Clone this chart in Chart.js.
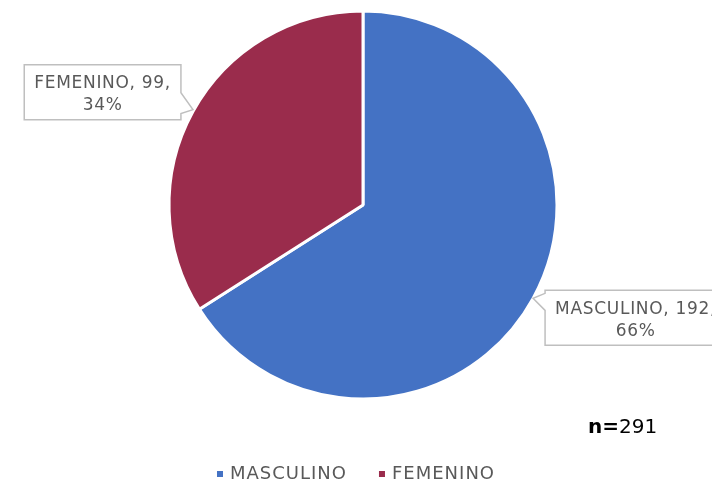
<!DOCTYPE html>
<html>
<head>
<meta charset="utf-8">
<script src="https://cdn.jsdelivr.net/npm/chart.js@4/dist/chart.umd.min.js"></script>
<style>
html,body{margin:0;padding:0;background:#fff;}
#wrap{position:relative;width:712px;height:482px;}
</style>
</head>
<body>
<div id="wrap"><canvas id="c" width="712" height="482"></canvas></div>
<script>
const categories = ["MASCULINO", "FEMENINO"];
const counts = [192, 99];
const percents = ["66%", "34%"];
const colors = ["#4472C4", "#9A2C4C"];
const totalN = "291";

const FONT = '"DejaVu Sans", sans-serif';
const TXT = '#595959';

const calloutPlugin = {
  id: 'callouts',
  afterDatasetsDraw(chart) {
    const ctx = chart.ctx;
    const meta = chart.getDatasetMeta(0);
    ctx.save();
    ctx.font = '17px ' + FONT;
    ctx.letterSpacing = '0.7px';
    meta.data.forEach((arc, i) => {
      const p = arc.getProps(['x','y','startAngle','endAngle','outerRadius'], true);
      const mid = (p.startAngle + p.endAngle) / 2;
      const tx = p.x + Math.cos(mid) * p.outerRadius;
      const ty = p.y + Math.sin(mid) * p.outerRadius;
      const l1 = categories[i] + ', ' + counts[i] + ',';
      const l2 = percents[i];
      const w = ctx.measureText(l1).width + 20;
      const h = 55;
      const left = Math.cos(mid) < 0;
      let bx, by;
      if (left) { bx = tx - 12 - w; by = ty + 8 - h; }
      else { bx = tx + 12; by = ty - 8; }
      ctx.beginPath();
      if (left) {
        ctx.moveTo(bx, by);
        ctx.lineTo(bx + w, by);
        ctx.lineTo(bx + w, by + h - 27);
        ctx.lineTo(tx, ty - 2);
        ctx.lineTo(bx + w, by + h - 6);
        ctx.lineTo(bx + w, by + h);
        ctx.lineTo(bx, by + h);
      } else {
        ctx.moveTo(bx, by);
        ctx.lineTo(bx + w, by);
        ctx.lineTo(bx + w, by + h);
        ctx.lineTo(bx, by + h);
        ctx.lineTo(bx, by + 20);
        ctx.lineTo(tx, ty);
        ctx.lineTo(bx, by + 3);
      }
      ctx.closePath();
      ctx.fillStyle = '#fff';
      ctx.fill();
      ctx.strokeStyle = '#BFBFBF';
      ctx.lineWidth = 1.5;
      ctx.stroke();
      ctx.fillStyle = TXT;
      ctx.textAlign = 'center';
      ctx.textBaseline = 'middle';
      ctx.fillText(l1, bx + w / 2, by + 19);
      ctx.fillText(l2, bx + w / 2, by + 41);
    });

    // legend
    ctx.font = '18px ' + FONT;
    ctx.letterSpacing = '1px';
    ctx.textBaseline = 'middle';
    ctx.textAlign = 'left';
    const ly = 474;
    const gap = 32, box = 6, boxGap = 7;
    const widths = categories.map(c => box + boxGap + ctx.measureText(c).width);
    const total = widths.reduce((a,b)=>a+b,0) + gap * (categories.length - 1);
    let x = 356 - total / 2;
    categories.forEach((c, i) => {
      ctx.fillStyle = colors[i];
      ctx.fillRect(x, ly - box / 2, box, box);
      ctx.fillStyle = TXT;
      ctx.fillText(c, x + box + boxGap, ly);
      x += widths[i] + gap;
    });

    // n=291
    ctx.letterSpacing = '0px';
    ctx.textBaseline = 'alphabetic';
    ctx.fillStyle = '#000';
    ctx.font = 'bold 20px ' + FONT;
    const nx = 588;
    ctx.fillText('n=', nx, 433);
    const w2 = ctx.measureText('n=').width;
    ctx.font = '20px ' + FONT;
    ctx.fillText(totalN, nx + w2, 433);
    ctx.restore();
  }
};

new Chart(document.getElementById('c'), {
  type: 'pie',
  data: {
    labels: categories,
    datasets: [{
      data: counts,
      backgroundColor: colors,
      borderColor: '#ffffff',
      borderWidth: 3
    }]
  },
  options: {
    responsive: false,
    animation: false,
    radius: 194,
    layout: { padding: { top: 12, bottom: 84, left: 14, right: 0 } },
    plugins: {
      legend: { display: false },
      tooltip: { enabled: false }
    }
  },
  plugins: [calloutPlugin]
});
</script>
</body>
</html>
